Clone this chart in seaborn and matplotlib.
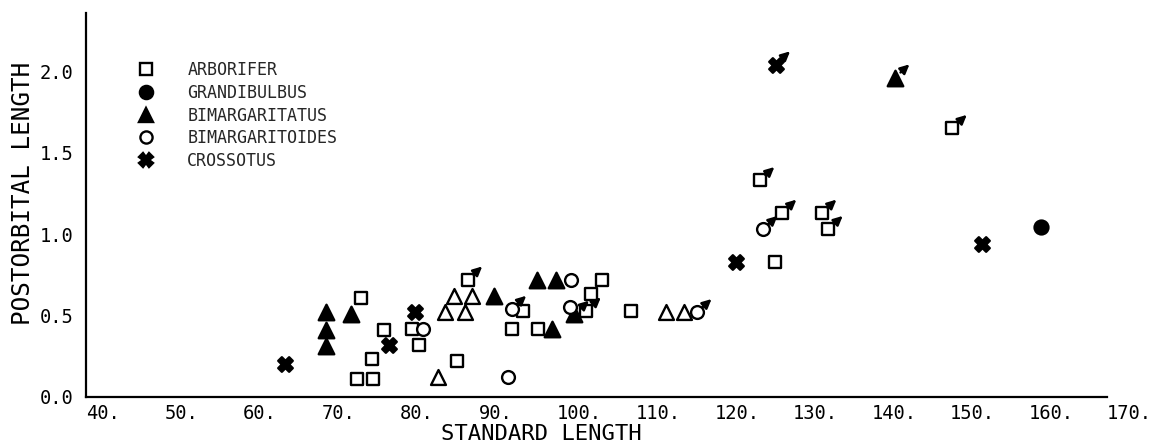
import numpy as np
import pandas as pd
import matplotlib
matplotlib.use("Agg")
import matplotlib.pyplot as plt
import seaborn as sns
from matplotlib.lines import Line2D

# ---------------- data ----------------
arborifer_x = [74.5, 76.6, 76.4, 75.0, 78.0, 81.5, 82.4, 87.3, 88.6, 94.2, 95.7,
               97.6, 103.7, 104.3, 105.7, 109.4, 125.8, 128.6, 133.7, 134.5, 127.7, 150.3]
arborifer_y = [0.11, 0.11, 0.23, 0.61, 0.41, 0.42, 0.32, 0.22, 0.72, 0.42, 0.53,
               0.42, 0.53, 0.63, 0.72, 0.53, 1.33, 1.13, 1.13, 1.03, 0.83, 1.65]
arborifer_male = [0, 0, 0, 0, 0, 0, 0, 0, 1, 0, 0, 0, 1, 0, 0, 0, 1, 1, 1, 1, 0, 1]

grandibulbus_x = [161.6]
grandibulbus_y = [1.04]
grandibulbus_male = [0]

bimargaritatus_x = [70.6, 70.6, 70.6, 73.8, 92.0, 97.4, 99.9, 99.3, 102.2, 143.0]
bimargaritatus_y = [0.52, 0.41, 0.31, 0.51, 0.62, 0.72, 0.72, 0.42, 0.51, 1.96]
bimargaritatus_male = [0, 0, 0, 0, 0, 0, 0, 0, 1, 1]

bimargaritoides_x = [82.9, 93.8, 94.2, 101.7, 101.6, 117.8, 126.2]
bimargaritoides_y = [0.42, 0.12, 0.54, 0.72, 0.55, 0.52, 1.03]
bimargaritoides_male = [0, 0, 1, 0, 0, 1, 1]

crossotus_x = [65.3, 78.6, 81.9, 122.8, 127.8, 154.1]
crossotus_y = [0.20, 0.32, 0.52, 0.83, 2.04, 0.94]
crossotus_male = [0, 0, 0, 0, 1, 0]

# open triangles (not in legend)
open_triangle_x = [84.8, 85.7, 88.3, 86.9, 89.2, 113.9, 116.2]
open_triangle_y = [0.12, 0.52, 0.52, 0.62, 0.62, 0.52, 0.52]
open_triangle_male = [0, 0, 0, 0, 0, 0, 0]

legend_labels = ["ARBORIFER", "GRANDIBULBUS", "BIMARGARITATUS",
                 "BIMARGARITOIDES", "CROSSOTUS"]
x_ticks = [40, 50, 60, 70, 80, 90, 100, 110, 120, 130, 140, 150, 160, 170]
y_ticks = [0.0, 0.5, 1.0, 1.5, 2.0]

# ---------------- style ----------------
sns.set_theme(style="white")
plt.rcParams["font.family"] = ["DejaVu Sans Mono"]

series = [
    # x, y, male, marker, face, size
    (arborifer_x, arborifer_y, arborifer_male, "s", "white", 85),
    (grandibulbus_x, grandibulbus_y, grandibulbus_male, "o", "black", 100),
    (bimargaritatus_x, bimargaritatus_y, bimargaritatus_male, "^", "black", 125),
    (bimargaritoides_x, bimargaritoides_y, bimargaritoides_male, "o", "white", 85),
    (crossotus_x, crossotus_y, crossotus_male, "X", "black", 110),
    (open_triangle_x, open_triangle_y, open_triangle_male, "^", "white", 115),
]

fig = plt.figure(figsize=(11.63, 4.44), dpi=100)
ax = fig.add_axes([0.0739, 0.1059, 0.9518 - 0.0739, 0.9707 - 0.1059])

for xs, ys, male, marker, face, size in series:
    df = pd.DataFrame({"x": xs, "y": ys})
    sns.scatterplot(data=df, x="x", y="y", marker=marker, s=size, color=face,
                    edgecolor="black", linewidth=1.7, ax=ax, legend=False,
                    zorder=3, clip_on=False)
    for xi, yi, m in zip(xs, ys, male):
        if m:
            ax.annotate("", xy=(xi, yi), xytext=(10.5, 9.5), textcoords="offset points",
                        arrowprops=dict(arrowstyle="<|-,head_length=0.45,head_width=0.22",
                                        lw=1.8, color="black", shrinkA=0, shrinkB=5.5),
                        zorder=4)

ax.set_xlim(40, 170)
ax.set_ylim(0, 2.356)
ax.set_xticks(x_ticks)
ax.set_xticklabels([f"{v}." for v in x_ticks])
ax.set_yticks(y_ticks)
ax.set_yticklabels([f"{v:.1f}" for v in y_ticks])
for lab in ax.get_xticklabels():
    lab.set_ha("left")

ax.tick_params(axis="both", direction="inout", length=10, width=1.5,
               color="black", labelsize=13.5, labelcolor="black")
ax.tick_params(axis="x", pad=0)
ax.tick_params(axis="y", pad=4)

for side in ["top", "right"]:
    ax.spines[side].set_visible(False)
for side in ["left", "bottom"]:
    ax.spines[side].set_color("black")
    ax.spines[side].set_linewidth(1.6)

ax.set_xlabel("STANDARD LENGTH", fontsize=16, color="black", va="baseline")
ax.xaxis.set_label_coords(0.446, -0.112)
ax.set_ylabel("POSTORBITAL LENGTH", fontsize=17.5, color="black", va="center", ha="center")
ax.yaxis.set_label_coords(-0.062, 0.529)

handles = []
for xs, ys, male, marker, face, size in series[:5]:
    handles.append(Line2D([], [], ls="none", marker=marker, markersize=np.sqrt(size) * 0.95,
                          markerfacecolor=face, markeredgecolor="black",
                          markeredgewidth=1.7))
ax.legend(handles, legend_labels, loc="upper left",
          bbox_to_anchor=(0.118, 0.862), bbox_transform=fig.transFigure,
          frameon=False, fontsize=12, handlelength=1.0, handletextpad=2.0,
          labelspacing=0.28, borderpad=0, borderaxespad=0)

fig.savefig("out.png", dpi=100, facecolor="white")
